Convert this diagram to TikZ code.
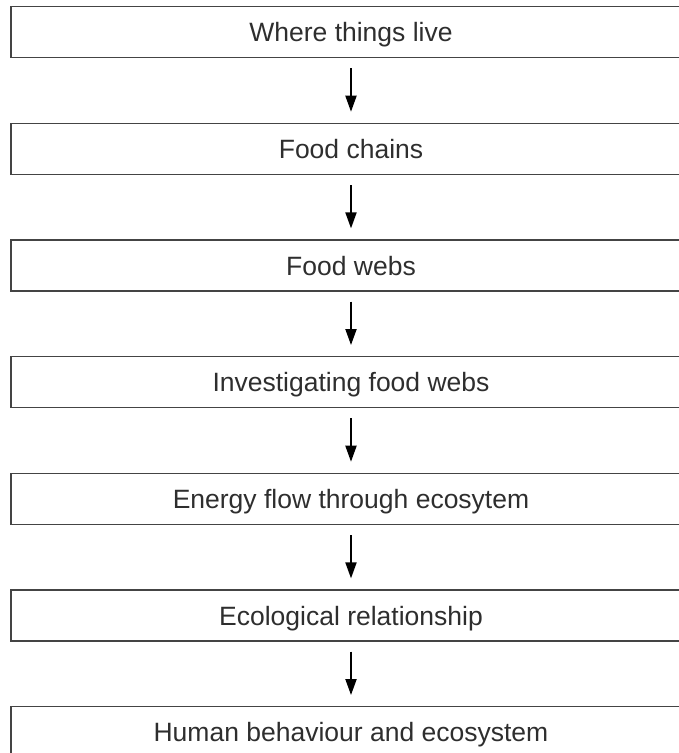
\documentclass[tikz,border=0pt]{standalone}
\usepackage{fontspec}
\setmainfont{Liberation Sans}
\usetikzlibrary{arrows.meta}
\definecolor{boxline}{HTML}{444444}
\definecolor{txt}{HTML}{2E2E2E}
\begin{document}
\begin{tikzpicture}[x=1pt,y=1pt,
  stagebox/.style={draw=boxline, line width=1.3pt, minimum width=680pt, minimum height=51pt,
    inner sep=0pt, text height=19pt, text depth=0pt, text=txt,
    font=\fontsize{26.5}{30}\selectfont},
  flowarrow/.style={line width=1.9pt, -{Triangle[length=16pt,width=11pt]}, shorten <=10pt, shorten >=11pt}]
\useasboundingbox (0,0) rectangle (679,753);
\clip (0,0) rectangle (679,753);
\node[stagebox] (s1) at (351,{753-32.2}) {Where things live};
\node[stagebox] (s2) at (351,{753-32.2-116.67}) {Food chains};
\node[stagebox] (s3) at (351,{753-32.2-2*116.67}) {Food webs};
\node[stagebox] (s4) at (351,{753-32.2-3*116.67}) {Investigating food webs};
\node[stagebox] (s5) at (351,{753-32.2-4*116.67}) {Energy flow through ecosytem};
\node[stagebox] (s6) at (351,{753-32.2-5*116.67}) {Ecological relationship};
\node[stagebox] (s7) at (351,{753-32.2-6*116.67}) {Human behaviour and ecosystem};
\draw[flowarrow] (s1.south) -- (s2.north);
\draw[flowarrow] (s2.south) -- (s3.north);
\draw[flowarrow] (s3.south) -- (s4.north);
\draw[flowarrow] (s4.south) -- (s5.north);
\draw[flowarrow] (s5.south) -- (s6.north);
\draw[flowarrow] (s6.south) -- (s7.north);
\end{tikzpicture}
\end{document}
